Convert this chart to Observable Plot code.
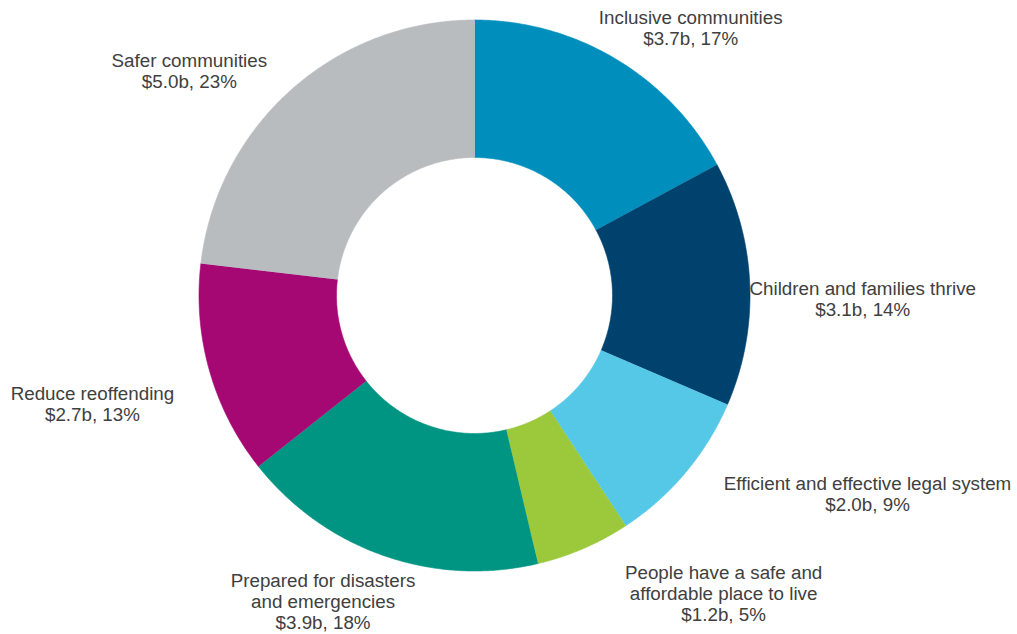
<!DOCTYPE html>
<html><head><meta charset="utf-8">
<script src="https://cdn.jsdelivr.net/npm/d3@7"></script>
<script src="https://cdn.jsdelivr.net/npm/@observablehq/plot@0.6"></script>
<style>html,body{margin:0;padding:0;background:#fff}#chart svg{display:block}</style>
</head><body><div id="chart"></div>
<script>
// ---- data ----
const categories = [
  "Inclusive communities",
  "Children and families thrive",
  "Efficient and effective legal system",
  "People have a safe and\naffordable place to live",
  "Prepared for disasters\nand emergencies",
  "Reduce reoffending",
  "Safer communities"
];
const spending = [3.7, 3.1, 2.0, 1.2, 3.9, 2.7, 5.0]; // $ billions
const shares = [17, 14, 9, 5, 18, 13, 23];           // percent labels
const sliceColors = ["#008FBD", "#00426E", "#55C8E8", "#9BC93B", "#009482", "#A50873", "#B9BCBF"];

// ---- layout ----
const W = 1017, H = 634, cx = 474, cy = 295, R = 275.5, r0 = 138;
const labelNudge = [[75, -31], [113, 15], [182, 21], [140, 45], [-61, 46], [-117, 33], [-102, -19]];

const total = d3.sum(spending);
let acc = 0;
const slices = categories.map((name, i) => {
  const a0 = acc / total * 2 * Math.PI;
  acc += spending[i];
  const a1 = acc / total * 2 * Math.PI;
  return {name, a0, a1, i};
});

const pts = [];
slices.forEach(s => {
  const n = Math.max(16, Math.ceil((s.a1 - s.a0) * 180 / Math.PI) * 2);
  for (let k = 0; k <= n; k++) {
    const a = s.a0 + (s.a1 - s.a0) * k / n;
    pts.push({name: s.name, x: R * Math.sin(a), y: R * Math.cos(a)});
  }
  for (let k = n; k >= 0; k--) {
    const a = s.a0 + (s.a1 - s.a0) * k / n;
    pts.push({name: s.name, x: r0 * Math.sin(a), y: r0 * Math.cos(a)});
  }
});

const labels = slices.map(s => {
  const m = (s.a0 + s.a1) / 2;
  return {
    x: R * Math.sin(m) + labelNudge[s.i][0],
    y: R * Math.cos(m) - labelNudge[s.i][1],
    text: `${s.name}\n$${spending[s.i].toFixed(1)}b, ${shares[s.i]}%`
  };
});

const chart = Plot.plot({
  width: W,
  height: H,
  margin: 0,
  style: {background: "#fff"},
  x: {domain: [-cx, W - cx], axis: null},
  y: {domain: [-(H - cy), cy], axis: null},
  color: {domain: categories, range: sliceColors},
  marks: [
    Plot.line(pts, {x: "x", y: "y", z: "name", fill: "name", stroke: "name", strokeWidth: 0.6}),
    Plot.text(labels, {
      x: "x", y: "y", text: "text",
      fill: "#404040",
      fontSize: 18.8,
      fontFamily: "'Liberation Sans', Arial, sans-serif",
      lineHeight: 1.117,
      textAnchor: "middle",
      lineAnchor: "middle"
    })
  ]
});
document.getElementById("chart").append(chart);
</script>
</body></html>
